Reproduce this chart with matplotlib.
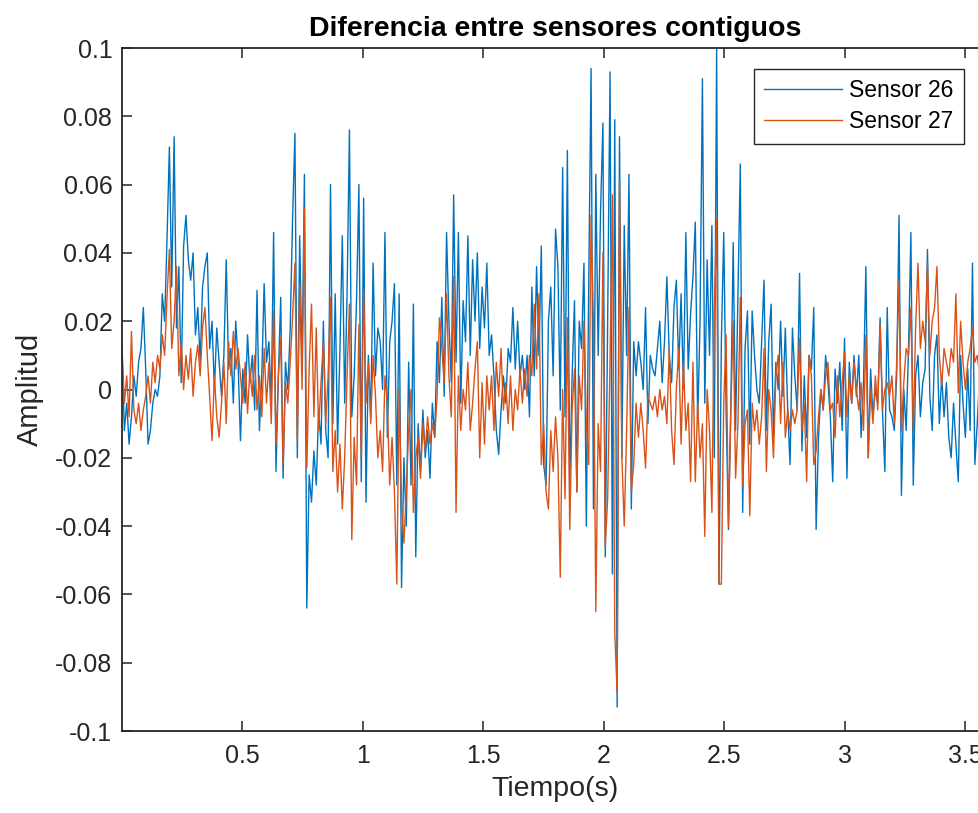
import numpy as np
import matplotlib
matplotlib.use("Agg")
import matplotlib.pyplot as plt
from matplotlib.ticker import FuncFormatter

# ---------------- data ----------------
DT = 0.00983  # spacing of the read-off samples (s)

sensor26 = [
    0.012, -0.012, -0.004, -0.016, -0.008, 0.004, -0.002, 0.008, 0.012, 0.024,
    0.006, -0.016, -0.012, -0.004, 0.0, -0.002, 0.004, 0.028, 0.02, 0.044,
    0.071, 0.03, 0.074, 0.018, 0.036, 0.002, 0.042, 0.051, 0.038, 0.032,
    0.04, 0.016, 0.024, 0.008, 0.03, 0.036, 0.04, 0.012, 0.02, 0.0,
    0.018, 0.008, -0.002, 0.01, 0.038, 0.006, 0.012, -0.004, 0.02, 0.008,
    -0.015, 0.006, -0.004, 0.016, 0.002, 0.01, -0.006, 0.029, -0.012, 0.004,
    0.031, 0.008, 0.014, -0.004, 0.046, -0.024, 0.004, 0.027, -0.026, 0.008,
    0.0, 0.018, 0.05, 0.075, -0.02, 0.045, 0.006, 0.063, -0.064, -0.025,
    -0.033, -0.018, -0.028, -0.006, -0.016, 0.02, -0.012, -0.02, 0.06, -0.01,
    0.028, -0.016, 0.012, 0.045, -0.004, 0.028, 0.076, -0.008, 0.004, 0.026,
    0.06, -0.027, 0.056, -0.033, 0.01, -0.008, 0.037, 0.004, 0.018, 0.014,
    0.0, 0.046, -0.014, 0.014, 0.02, 0.031, -0.028, 0.028, -0.058, -0.02,
    -0.04, 0.008, -0.028, 0.025, -0.049, -0.01, -0.024, -0.006, -0.02, -0.012,
    -0.026, -0.004, -0.014, 0.014, 0.002, 0.027, -0.002, 0.046, 0.02, 0.002,
    0.057, 0.008, 0.046, -0.004, 0.026, 0.014, 0.045, 0.01, 0.038, 0.02,
    0.04, 0.012, 0.03, 0.018, 0.037, 0.01, 0.016, 0.004, -0.012, -0.019,
    -0.006, 0.004, -0.004, 0.012, 0.008, 0.024, 0.006, 0.02, 0.004, 0.01,
    0.0, 0.01, -0.008, 0.03, 0.004, 0.036, 0.01, 0.042, -0.022, -0.028,
    0.02, 0.03, 0.004, 0.047, 0.036, -0.006, 0.065, -0.008, 0.07, -0.028,
    0.004, 0.026, -0.03, 0.02, 0.012, 0.037, -0.04, 0.03, 0.094, -0.035,
    0.063, 0.01, 0.052, 0.078, -0.049, 0.02, 0.093, -0.054, 0.079, -0.093,
    0.074, -0.02, 0.048, 0.01, 0.063, -0.035, 0.014, 0.004, 0.014, 0.008,
    0.0, 0.024, -0.01, 0.01, 0.006, 0.004, 0.012, 0.02, 0.002, 0.014,
    0.033, 0.01, 0.002, 0.024, 0.032, 0.006, 0.028, 0.0, 0.046, 0.006,
    0.022, 0.033, 0.049, -0.01, 0.02, 0.091, -0.004, 0.038, 0.01, 0.048,
    -0.02, 0.1, -0.057, 0.014, 0.046, -0.006, -0.041, -0.004, 0.043, -0.012,
    0.028, 0.066, -0.036, 0.012, 0.023, -0.016, 0.023, 0.01, 0.0, -0.004,
    0.014, 0.032, -0.012, 0.014, 0.025, -0.014, 0.008, 0.0, 0.02, -0.002,
    0.018, -0.006, -0.022, 0.018, 0.004, -0.006, 0.034, -0.018, 0.004, -0.014,
    0.01, 0.006, 0.024, -0.041, -0.014, 0.0, -0.006, 0.01, 0.002, -0.008,
    -0.027, 0.006, -0.004, 0.008, -0.012, 0.015, -0.026, 0.008, -0.004, 0.01,
    -0.002, 0.01, -0.014, 0.002, 0.036, -0.02, 0.006, -0.008, 0.0, -0.004,
    0.021, -0.006, -0.024, 0.024, -0.006, -0.008, -0.012, 0.004, 0.051, -0.031,
    0.0, -0.012, 0.012, 0.046, -0.028, 0.004, 0.01, -0.008, 0.002, 0.006,
    0.041, -0.002, -0.012, 0.01, 0.016, -0.01, 0.004, -0.008, 0.002, -0.014,
    -0.02, -0.004, -0.016, -0.027, 0.01, -0.004, -0.014, 0.006, -0.012, 0.037,
    -0.022, -0.01, 0.004, -0.008, 0.006, -0.004,
]

sensor27 = [
    0.012, -0.004, 0.004, -0.008, 0.017, -0.006, -0.01, -0.004, -0.012, -0.006,
    -0.002, 0.004, -0.004, 0.008, 0.002, 0.01, 0.006, 0.016, 0.01, 0.027,
    0.041, 0.012, 0.02, 0.036, 0.004, 0.014, 0.0, 0.01, 0.003, 0.012,
    -0.002, 0.008, 0.013, 0.004, 0.018, 0.024, 0.01, -0.002, -0.015, 0.004,
    -0.008, -0.014, -0.004, 0.008, -0.01, 0.014, 0.004, 0.017, 0.006, 0.012,
    0.004, -0.004, 0.008, -0.007, 0.006, -0.002, 0.01, -0.006, 0.004, -0.008,
    0.012, -0.004, 0.008, -0.01, 0.023, -0.016, 0.004, 0.015, -0.022, 0.002,
    -0.004, 0.008, 0.021, 0.037, -0.015, 0.031, 0.0, 0.053, -0.023, 0.006,
    0.025, -0.008, 0.018, -0.012, 0.002, 0.014, -0.01, 0.004, 0.027, -0.024,
    -0.012, -0.03, -0.016, -0.035, -0.02, 0.004, 0.025, -0.044, -0.014, -0.028,
    0.019, -0.02, 0.029, -0.004, 0.008, -0.01, 0.01, -0.002, -0.02, -0.012,
    -0.024, 0.004, -0.004, -0.028, -0.014, -0.03, -0.057, 0.0, -0.034, -0.045,
    -0.03, -0.012, 0.0, -0.036, -0.02, -0.014, -0.026, -0.01, -0.018, -0.008,
    -0.016, -0.01, -0.014, -0.002, 0.021, 0.012, 0.002, 0.028, 0.004, -0.008,
    0.033, -0.036, 0.004, -0.012, 0.0, -0.006, 0.008, -0.012, -0.004, 0.006,
    0.014, -0.02, 0.002, -0.016, 0.004, -0.006, 0.004, -0.012, 0.008, -0.002,
    0.012, -0.006, 0.002, -0.01, 0.004, -0.012, 0.0, -0.006, 0.006, -0.004,
    0.006, -0.002, 0.01, 0.004, 0.025, 0.006, 0.028, -0.022, -0.01, -0.03,
    -0.035, -0.012, -0.024, -0.008, -0.02, -0.055, 0.0, -0.032, 0.021, -0.041,
    -0.006, 0.006, -0.03, 0.004, -0.006, 0.02, -0.01, -0.022, 0.051, 0.02,
    -0.065, -0.01, -0.024, 0.04, -0.046, -0.032, 0.008, 0.057, -0.071, -0.089,
    0.061, -0.02, -0.04, -0.012, 0.024, -0.03, -0.022, -0.004, -0.014, -0.004,
    -0.012, -0.023, -0.002, -0.004, -0.006, -0.002, -0.008, 0.0, -0.006, -0.002,
    -0.01, 0.012, -0.012, -0.022, 0.0, 0.012, -0.016, 0.008, -0.012, -0.004,
    -0.027, 0.008, -0.027, -0.004, -0.02, -0.01, -0.043, 0.0, -0.012, -0.036,
    0.023, 0.05, -0.057, -0.057, -0.004, 0.016, -0.04, -0.006, 0.02, -0.026,
    -0.01, 0.027, -0.028, -0.01, -0.006, -0.037, -0.004, -0.012, -0.006, -0.016,
    -0.008, 0.012, -0.024, 0.0, -0.006, -0.02, 0.004, 0.01, -0.01, 0.008,
    -0.014, -0.006, -0.012, -0.006, -0.01, -0.006, 0.015, -0.012, -0.004, -0.027,
    0.01, 0.004, -0.022, -0.018, -0.008, 0.0, -0.006, 0.004, 0.008, -0.006,
    -0.004, -0.014, 0.004, -0.008, 0.002, 0.011, -0.008, 0.004, -0.004, 0.008,
    0.0, -0.006, 0.002, -0.012, 0.016, -0.02, 0.0, -0.01, 0.004, -0.006,
    0.019, -0.006, 0.0, 0.002, -0.002, 0.004, -0.01, 0.008, 0.032, -0.012,
    0.002, 0.012, 0.01, 0.024, -0.012, 0.018, 0.037, 0.012, 0.02, 0.014,
    0.037, 0.01, 0.02, 0.024, 0.036, 0.01, 0.001, 0.012, 0.008, 0.004,
    0.012, 0.008, 0.028, -0.001, 0.02, 0.008, 0.0, 0.008, 0.012, 0.018,
    0.008, 0.01, 0.004, 0.012, 0.006, 0.01,
]

series_labels = ["Sensor 26", "Sensor 27"]
x_ticks = [0.5, 1, 1.5, 2, 2.5, 3, 3.5]
y_ticks = [-0.1, -0.08, -0.06, -0.04, -0.02, 0, 0.02, 0.04, 0.06, 0.08, 0.1]
title_text = "Diferencia entre sensores contiguos"
x_label = "Tiempo(s)"
y_label = "Amplitud"

# ---------------- figure ----------------
plt.rcParams['font.family'] = ['Liberation Sans', 'DejaVu Sans']
plt.rcParams['axes.unicode_minus'] = False

W, H = 979, 813
fig = plt.figure(figsize=(W / 100, H / 100), dpi=100)
# axes box in pixels: left 122, top 48, bottom 731, right ~988 (beyond image)
L, T, B, R = 122, 48, 731, 988
ax = fig.add_axes([L / W, 1 - B / H, (R - L) / W, (B - T) / H])

t26 = np.arange(len(sensor26)) * DT
t27 = np.arange(len(sensor27)) * DT

blue = "#0072BD"
orange = "#D95319"
ax.plot(t26, sensor26, color=blue, lw=1.0, label=series_labels[0])
ax.plot(t27, sensor27, color=orange, lw=1.0, label=series_labels[1])

ax.set_xlim(0, (R - L) / 241.0)
ax.set_ylim(-0.1, 0.1)
ax.set_xticks(x_ticks)
ax.set_yticks(y_ticks)
ax.xaxis.set_major_formatter(FuncFormatter(lambda v, p: f"{round(v, 3):g}"))
ax.yaxis.set_major_formatter(FuncFormatter(lambda v, p: "0" if abs(v) < 1e-9 else f"{round(v, 3):g}"))

dark = "#262626"
for s in ax.spines.values():
    s.set_color(dark)
    s.set_linewidth(1.3)
ax.tick_params(axis='both', which='major', direction='in', length=7, width=1.1,
               colors=dark, labelsize=18, top=True, right=True, pad=7)
ax.tick_params(axis='x', pad=9)

ax.set_title(title_text, fontsize=20.5, fontweight='bold', color='black', pad=9)
ax.set_xlabel(x_label, fontsize=20.5, color=dark, labelpad=6)
ax.set_ylabel(y_label, fontsize=21, color=dark, labelpad=8)

leg = ax.legend(loc='upper left', bbox_to_anchor=(754 / W, 1 - 69 / H),
                bbox_transform=fig.transFigure, fontsize=16.5, frameon=True,
                fancybox=False, framealpha=1, edgecolor=dark, borderaxespad=0,
                handlelength=3.4, handletextpad=0.3, borderpad=0.45,
                labelspacing=0.35)
leg.get_frame().set_linewidth(1.0)

fig.savefig("out.png", dpi=100)
